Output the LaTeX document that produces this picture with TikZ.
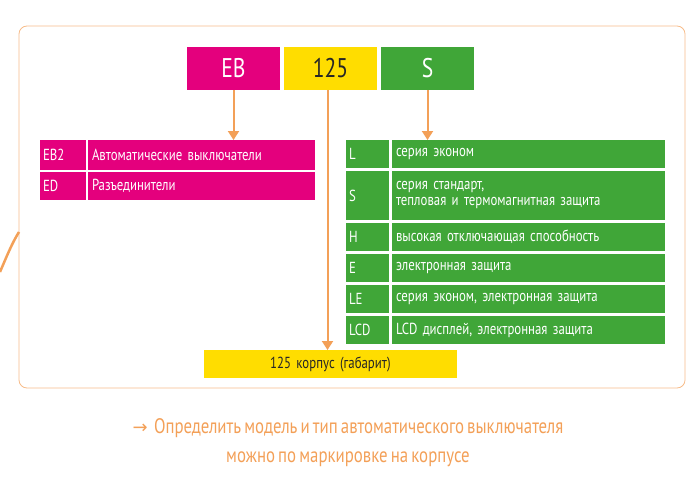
\documentclass[tikz,border=0pt]{standalone}
\usepackage{fontspec}
\setmainfont{PT Sans}[FakeStretch=0.8,WordSpace=0.7]
\newfontfamily\symf{DejaVu Sans}
\definecolor{mag}{RGB}{228,0,125}
\definecolor{yel}{RGB}{255,221,0}
\definecolor{grn}{RGB}{64,166,56}
\definecolor{org}{RGB}{243,160,88}
\usetikzlibrary{arrows.meta}
\begin{document}
\begin{tikzpicture}[x=1pt,y=-1pt,
 cell/.style={anchor=north west,inner sep=0pt,outer sep=0pt,text=white,font=\fontsize{16}{16}\selectfont,align=left},
 hdr/.style={anchor=north west,inner sep=0pt,outer sep=0pt,minimum width=93pt,minimum height=43pt,font=\fontsize{27}{28}\selectfont},
 ar/.style={draw=org,line width=2pt,-{Triangle[length=9pt,width=11pt]}}]
\useasboundingbox (0,0) rectangle (700,500);
\draw[org!70,line width=0.8pt,rounded corners=8pt] (19,26) rectangle (685,388);
\draw[org,line width=2.5pt] (0,272) .. controls (6,258) and (12,243) .. (19,232);
\node[hdr,fill=mag,text=white] (eb) at (187,47) {EB};
\node[hdr,fill=yel,text=black!85] (n125) at (284,47) {125};
\node[hdr,fill=grn,text=white] (s) at (381,47) {S};
\foreach \y/\h/\a/\b/\n in {140/30/EB2/Автоматические выключатели/m1,172/28/ED/Разъединители/m2}{
 \node[cell,fill=mag,minimum width=46pt,minimum height=\h pt,text width=40pt,inner xsep=3pt] (\n a) at (40,\y) {\a};
 \node[cell,fill=mag,minimum width=227pt,minimum height=\h pt,text width=219pt,inner xsep=4pt] (\n b) at (88,\y) {\b};
}
\foreach \y/\h/\a/\b/\n in {140/28/L/серия эконом/g1,171/49/S/{серия стандарт,\\тепловая и термомагнитная защита}/g2,223/28/H/высокая отключающая способность/g3,254/28/E/электронная защита/g4,285/28/LE/{серия эконом, электронная защита}/g5,316/28/LCD/{LCD дисплей, электронная защита}/g6}{
 \node[cell,fill=grn,minimum width=43pt,minimum height=\h pt,text width=37pt,inner xsep=3pt] (\n a) at (346,\y) {\a};
 \node[cell,fill=grn,minimum width=273pt,minimum height=\h pt,text width=265pt,inner xsep=4pt,font=\fontsize{16}{16}\selectfont] (\n b) at (392,\y) {\b};
}
\node[cell,fill=yel,text=black!85,minimum width=253pt,minimum height=28pt,text width=200pt,inner xsep=26.5pt,align=center] (yb) at (204,350) {125 корпус (габарит)};
\draw[ar] (eb.south) -- (m1b.north -| eb.south);
\draw[ar] (s.south) -- (g1b.north -| s.south);
\draw[ar] (n125.south) ++(-3,0) coordinate (c1) -- (c1 |- yb.north);
\node[text=org,font=\fontsize{21}{29}\selectfont,align=center] (cap) at (348,443) {{\symf\fontsize{18}{18}\selectfont →}\ \ Определить модель и тип автоматического выключателя\\можно по маркировке на корпусе};
\end{tikzpicture}
\end{document}
